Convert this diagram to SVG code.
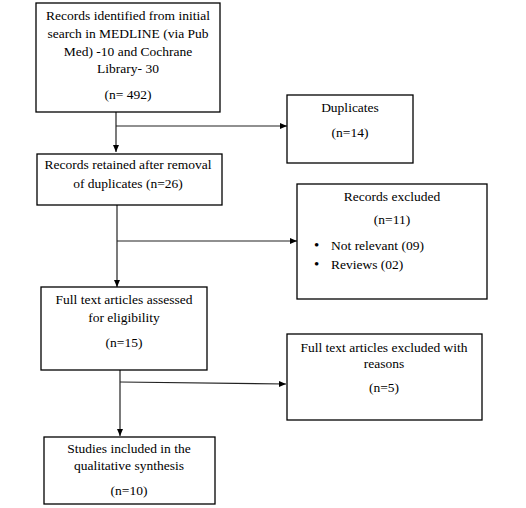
<svg xmlns="http://www.w3.org/2000/svg" width="526" height="508" viewBox="0 0 526 508">
<style>
.box{fill:#fff;stroke:#000;stroke-width:1.3}
text{font-family:"Liberation Serif","Times New Roman",serif;font-size:13.5px;fill:#000}
.c{text-anchor:middle}
.b{font-size:15px}
.ln{stroke:#222;stroke-width:1.2;fill:none}
</style>
<defs>
<marker id="ah" markerWidth="8" markerHeight="8" refX="7" refY="4" orient="auto" markerUnits="userSpaceOnUse">
<path d="M0,1 L7,4 L0,7 Z" fill="#000"/>
</marker>
</defs>
<rect width="526" height="508" fill="#fff"/>
<g id="connectors">
<path class="ln" d="M116,112 V152" marker-end="url(#ah)"/>
<path class="ln" d="M116,126 H287" marker-end="url(#ah)"/>
<path class="ln" d="M117,205 V287" marker-end="url(#ah)"/>
<path class="ln" d="M117,241 H297" marker-end="url(#ah)"/>
<path class="ln" d="M120,370 V436" marker-end="url(#ah)"/>
<path class="ln" d="M120,382 L286,384" marker-end="url(#ah)"/>
</g>
<g id="records-identified">
<rect class="box" x="36" y="3" width="184" height="109"/>
<text class="c" x="128" y="20">Records identified from initial</text>
<text class="c" x="128" y="38">search in MEDLINE  (via Pub</text>
<text class="c" x="128" y="56">Med) -10 and Cochrane</text>
<text class="c" x="128" y="73">Library- 30</text>
<text class="c" x="128" y="99">(n= 492)</text>
</g>
<g id="duplicates">
<rect class="box" x="287" y="95" width="126" height="68"/>
<text class="c" x="350" y="112">Duplicates</text>
<text class="c" x="350" y="137">(n=14)</text>
</g>
<g id="records-retained">
<rect class="box" x="37" y="154" width="185" height="51"/>
<text class="c" x="128" y="169">Records retained after removal</text>
<text class="c" x="128" y="188">of duplicates (n=26)</text>
</g>
<g id="records-excluded">
<rect class="box" x="297" y="184" width="190" height="115"/>
<text class="c" x="392" y="201">Records excluded</text>
<text class="c" x="392" y="224">(n=11)</text>
<text class="b" x="314" y="250">•</text>
<text x="331" y="250">Not relevant (09)</text>
<text class="b" x="314" y="269">•</text>
<text x="331" y="269">Reviews (02)</text>
</g>
<g id="full-text-assessed">
<rect class="box" x="41" y="287" width="166" height="83"/>
<text class="c" x="124" y="304">Full text articles assessed</text>
<text class="c" x="124" y="322">for eligibility</text>
<text class="c" x="124" y="347">(n=15)</text>
</g>
<g id="full-text-excluded">
<rect class="box" x="287" y="334" width="195" height="86"/>
<text class="c" x="384" y="352">Full text articles excluded with</text>
<text class="c" x="384" y="368">reasons</text>
<text class="c" x="384" y="392">(n=5)</text>
</g>
<g id="studies-included">
<rect class="box" x="44" y="437" width="171" height="67"/>
<text class="c" x="129" y="453">Studies included in the</text>
<text class="c" x="129" y="470">qualitative synthesis</text>
<text class="c" x="129" y="495">(n=10)</text>
</g>
</svg>
